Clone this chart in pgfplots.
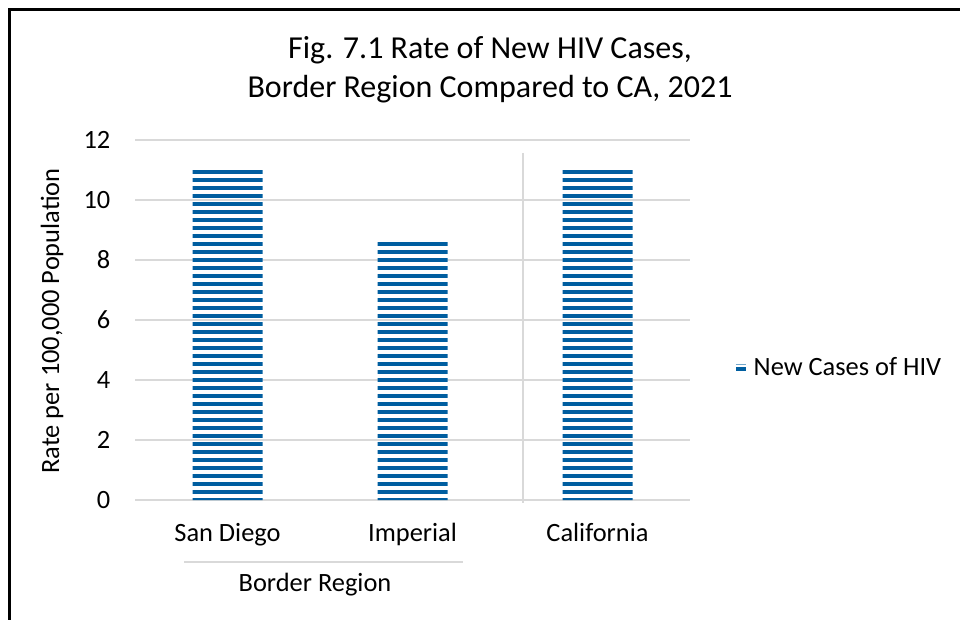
\documentclass[border=0pt]{standalone}
\usepackage{fontspec}
\setmainfont{Carlito}
\usepackage{pgfplots}
\pgfplotsset{compat=1.18}
\usetikzlibrary{patterns.meta}
\definecolor{barblue}{RGB}{0,94,160}
\definecolor{gridgray}{RGB}{217,217,217}
\newcommand{\labelfont}{\fontsize{19.8}{23}\selectfont}
\newcommand{\titlefont}{\fontsize{24}{28}\selectfont}
\begin{document}
\begin{tikzpicture}
\path[use as bounding box] (0,0) rectangle (720pt,-465pt);
\begin{axis}[
  at={(101.25pt,-375pt)}, anchor=south west,
  scale only axis, width=416.25pt, height=270pt,
  xmin=-0.5, xmax=2.5, ymin=0, ymax=12,
  ytick={0,2,...,12},
  xtick={0,1,2}, xticklabels={San Diego, Imperial, California},
  axis line style={draw=none},
  ymajorgrids, grid style={gridgray, line width=1.1pt},
  major tick length=0pt,
  ybar, bar width=52.5pt,
  tick label style={font=\labelfont, text=black},
  /pgf/number format/assume math mode=true,
  yticklabel style={xshift=-15pt},
  xticklabel style={yshift=-14pt},
  legend style={at={(1.074,0.367)}, anchor=west, draw=none, fill=none,
    font=\labelfont, legend cell align=left},
  clip=false,
]
\addplot[draw=none, pattern={Lines[angle=0,distance=6pt,line width=3pt]},
  pattern color=barblue,
  legend image code/.code={
    \draw[barblue!55, line width=0.8pt] (0pt,2.6pt) -- (7.5pt,2.6pt);
    \fill[barblue] (0pt,-2.2pt) rectangle (7.5pt,0.6pt);
  }] coordinates {(0,11.1) (1,8.7) (2,11.0)};
\addlegendentry{\hspace{3.5pt}New Cases of HIV}
\end{axis}
\begin{scope}[x=0.75pt,y=-0.75pt]
  % chart frame
  \draw[black, line width=1.9pt] (9.5,640) -- (9.5,9.5) -- (980,9.5);
  % title
  \node[anchor=base, font=\titlefont] at (490,59) {Fig. 7.1 Rate of New HIV Cases,};
  \node[anchor=base, font=\titlefont] at (490,98) {Border Region Compared to CA, 2021};
  % y axis title
  \node[rotate=90, font=\labelfont] at (52,321) {Rate per 100,000 Population};
  % category group separators
  \draw[gridgray, line width=1.1pt] (523,153) -- (523,503);
  \draw[gridgray, line width=1.1pt] (184,562) -- (463,562);
  \node[anchor=base, font=\labelfont] at (315,591) {Border Region};
\end{scope}
\end{tikzpicture}
\end{document}
